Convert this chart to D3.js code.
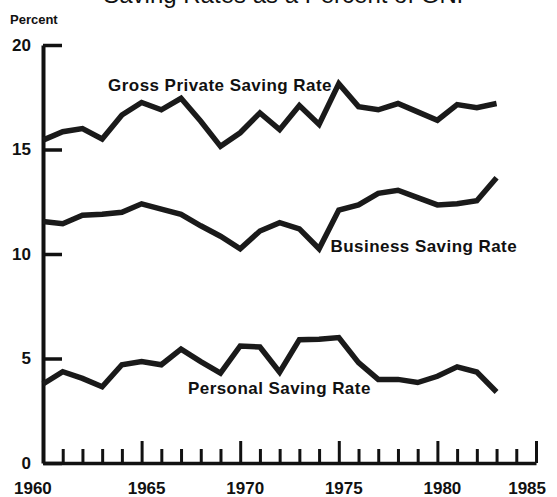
<!DOCTYPE html>
<html lang="en">
<head>
	<meta charset="UTF-8">
	<title>Saving Rates</title>
	<style>
		body { margin: 0; background: #fff; }
		text { font-family: "Liberation Sans", Arial, Helvetica, sans-serif; fill: #111; }
	</style>
</head>
<body>
	<script src="https://d3js.org/d3.v7.min.js"></script>
	<script type="text/javascript">
		// data
		var years = [1960,1961,1962,1963,1964,1965,1966,1967,1968,1969,1970,1971,
		             1972,1973,1974,1975,1976,1977,1978,1979,1980,1981,1982,1983];
		var grossRate = [15.45,15.85,16.0,15.5,16.65,17.25,16.9,17.45,16.35,15.15,15.8,16.75,
		                 15.95,17.1,16.2,18.15,17.05,16.9,17.2,16.8,16.4,17.15,17.0,17.2];
		var businessRate = [11.55,11.45,11.85,11.9,12.0,12.4,12.15,11.9,11.35,10.85,10.25,11.1,
		                    11.5,11.2,10.25,12.1,12.35,12.9,13.05,12.7,12.35,12.4,12.55,13.65];
		var personalRate = [3.78,4.37,4.05,3.65,4.7,4.85,4.7,5.45,4.85,4.3,5.6,5.55,
		                    4.35,5.9,5.92,6.0,4.8,4.0,4.0,3.85,4.15,4.6,4.35,3.4];
		var yTicks = [0,5,10,15,20];
		var xLabels = [1960,1965,1970,1975,1980,1985];
		var minorYears = [1961,1962,1963,1964,1966,1967,1968,1969,1971,1972,1973,1974,
		                  1976,1977,1978,1979,1981,1982,1983,1984];
		var majorYears = [1965,1970,1975,1980,1985];

		var svg = d3.select("body").append("svg").attr("width",557).attr("height",497);

		var x = d3.scaleLinear().domain([1960,1985]).range([43,536]);
		var y = d3.scaleLinear().domain([0,20]).range([463,45]);

		// title, mostly cut off by the top edge
		svg.append("text").attr("x",288).attr("y",2.5)
			.attr("text-anchor","middle")
			.style("font-size","24px")
			.text("Saving Rates as a Percent of GNP");

		svg.append("text").attr("x",10).attr("y",24)
			.style("font-size","13px").style("font-weight","bold")
			.text("Percent");

		// x axis: minor and major ticks pointing up
		var xMinor = svg.append("g").attr("transform","translate(0," + y(0) + ")")
			.call(d3.axisBottom(x).tickValues(minorYears).tickSizeInner(-14).tickSizeOuter(0).tickFormat(""));
		var xMajor = svg.append("g").attr("transform","translate(0," + y(0) + ")")
			.call(d3.axisBottom(x).tickValues(majorYears).tickSizeInner(-22).tickSizeOuter(0).tickFormat(""));
		svg.selectAll(".tick line").attr("stroke","#111").attr("stroke-width",3);
		xMinor.select(".domain").attr("stroke","#111").attr("stroke-width",3.5);
		xMajor.select(".domain").remove();

		svg.selectAll(".xlabel").data(xLabels).enter().append("text").attr("class","xlabel")
			.attr("x",function(d){
				if (d == 1960) return x(d) - 29;
				if (d == 1985) return x(d) + 10;
				return x(d) + 5;
			})
			.attr("y",494)
			.attr("text-anchor",function(d){
				if (d == 1960) return "start";
				if (d == 1985) return "end";
				return "middle";
			})
			.style("font-size","17px").style("font-weight","bold")
			.text(function(d){ return d; });

		// y axis: ticks pointing right
		var yAxis = svg.append("g").attr("transform","translate(" + x(1960) + ",0)")
			.call(d3.axisLeft(y).tickValues(yTicks).tickSizeInner(-19).tickSizeOuter(0).tickPadding(12));
		yAxis.select(".domain").attr("stroke","#111").attr("stroke-width",4);
		yAxis.selectAll(".tick line").attr("stroke","#111").attr("stroke-width",3.5);
		yAxis.selectAll(".tick text")
			.style("font-family","\"Liberation Sans\", Arial, sans-serif")
			.style("font-size","17px").style("font-weight","bold").attr("fill","#111");

		// series lines
		var line = d3.line()
			.x(function(d){ return x(d[0]); })
			.y(function(d){ return y(d[1]); });

		var series = [grossRate, businessRate, personalRate];
		svg.selectAll(".series").data(series).enter().append("path").attr("class","series")
			.attr("fill","none")
			.attr("stroke","#1a1a1a")
			.attr("stroke-width",5.5)
			.attr("stroke-linejoin","miter")
			.attr("d",function(vals){
				return line(years.map(function(yr,i){ return [yr, vals[i]]; }));
			});

		// series labels
		var labels = [
			{name:"Gross Private Saving Rate", year:1963.3, value:17.8},
			{name:"Business Saving Rate", year:1974.58, value:10.1},
			{name:"Personal Saving Rate", year:1967.35, value:3.28}
		];
		svg.selectAll(".slabel").data(labels).enter().append("text").attr("class","slabel")
			.attr("x",function(d){ return x(d.year); })
			.attr("y",function(d){ return y(d.value); })
			.style("font-size","17px").style("font-weight","bold")
			.style("letter-spacing","0.45px")
			.text(function(d){ return d.name; });
	</script>
</body>
</html>
